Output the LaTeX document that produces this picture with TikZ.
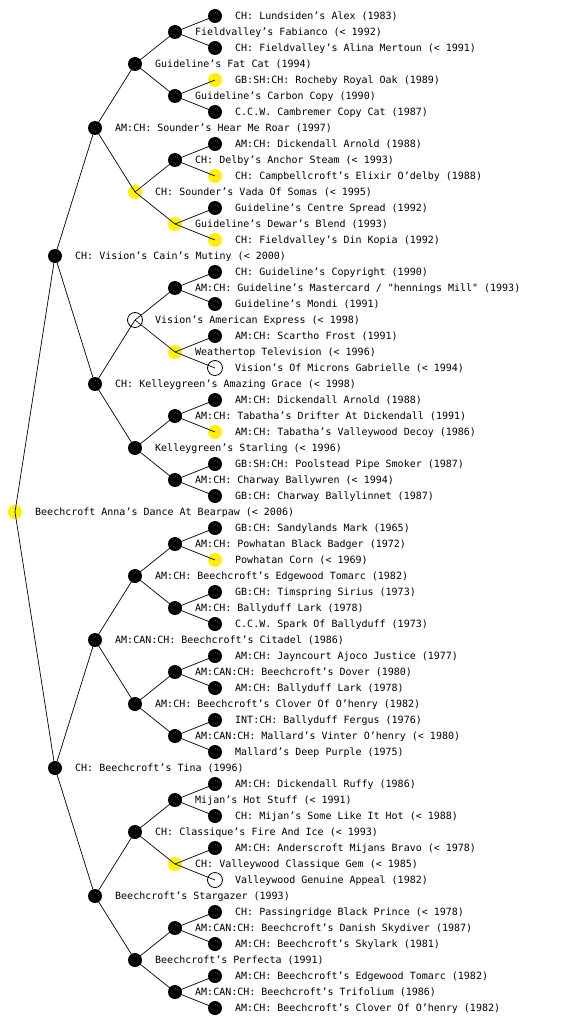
\documentclass[tikz,border=0pt]{standalone}
\usepackage{fontspec}
\newfontfamily\pedfont{DejaVu Sans Mono}
\tikzset{
  pnode/.style={circle, inner sep=0pt, minimum size=14pt},
  blk/.style={pnode, fill=black, path picture={\draw[white!75!black, line width=0.45pt, dotted] (path picture bounding box.center) circle (3.6pt);}},
  yel/.style={pnode, fill=yellow},
  wht/.style={pnode, fill=white, draw=black, line width=0.8pt, minimum size=15pt},
  lbl/.style={anchor=west, inner sep=0pt, text height=7.3pt, text depth=0pt, font=\pedfont\fontsize{10}{12}\selectfont},
  edge/.style={draw=black, line width=0.7pt}
}
\newcommand\pedent[5]{%
  \node[#1] (#2) at (#3,#4) {};
  \node[lbl] (#2t) at ([xshift=20pt]#2.center) {#5};}
\begin{document}
\begin{tikzpicture}[x=1pt,y=-1pt]
\fill[white] (0,0) rectangle (560,1024);
\useasboundingbox (0,0) rectangle (560,1024);
% root and level 1
\pedent{yel}{r}{15}{512}{Beechcroft Anna’s Dance At Bearpaw (< 2006)}
\pedent{blk}{a0}{55}{256}{CH: Vision’s Cain’s Mutiny (< 2000)}
\pedent{blk}{a1}{55}{768}{CH: Beechcroft’s Tina (1996)}
% level 2
\pedent{blk}{b0}{95}{128}{AM:CH: Sounder’s Hear Me Roar (1997)}
\pedent{blk}{b1}{95}{384}{CH: Kelleygreen’s Amazing Grace (< 1998)}
\pedent{blk}{b2}{95}{640}{AM:CAN:CH: Beechcroft’s Citadel (1986)}
\pedent{blk}{b3}{95}{896}{Beechcroft’s Stargazer (1993)}
% level 3
\pedent{blk}{c0}{135}{64}{Guideline’s Fat Cat (1994)}
\pedent{yel}{c1}{135}{192}{CH: Sounder’s Vada Of Somas (< 1995)}
\pedent{wht}{c2}{135}{320}{Vision’s American Express (< 1998)}
\pedent{blk}{c3}{135}{448}{Kelleygreen’s Starling (< 1996)}
\pedent{blk}{c4}{135}{576}{AM:CH: Beechcroft’s Edgewood Tomarc (1982)}
\pedent{blk}{c5}{135}{704}{AM:CH: Beechcroft’s Clover Of O’henry (1982)}
\pedent{blk}{c6}{135}{832}{CH: Classique’s Fire And Ice (< 1993)}
\pedent{blk}{c7}{135}{960}{Beechcroft’s Perfecta (1991)}
% level 4
\pedent{blk}{d0}{175}{32}{Fieldvalley’s Fabianco (< 1992)}
\pedent{blk}{d1}{175}{96}{Guideline’s Carbon Copy (1990)}
\pedent{blk}{d2}{175}{160}{CH: Delby’s Anchor Steam (< 1993)}
\pedent{yel}{d3}{175}{224}{Guideline’s Dewar’s Blend (1993)}
\pedent{blk}{d4}{175}{288}{AM:CH: Guideline’s Mastercard / "hennings Mill" (1993)}
\pedent{yel}{d5}{175}{352}{Weathertop Television (< 1996)}
\pedent{blk}{d6}{175}{416}{AM:CH: Tabatha’s Drifter At Dickendall (1991)}
\pedent{blk}{d7}{175}{480}{AM:CH: Charway Ballywren (< 1994)}
\pedent{blk}{d8}{175}{544}{AM:CH: Powhatan Black Badger (1972)}
\pedent{blk}{d9}{175}{608}{AM:CH: Ballyduff Lark (1978)}
\pedent{blk}{d10}{175}{672}{AM:CAN:CH: Beechcroft’s Dover (1980)}
\pedent{blk}{d11}{175}{736}{AM:CAN:CH: Mallard’s Vinter O’henry (< 1980)}
\pedent{blk}{d12}{175}{800}{Mijan’s Hot Stuff (< 1991)}
\pedent{yel}{d13}{175}{864}{CH: Valleywood Classique Gem (< 1985)}
\pedent{blk}{d14}{175}{928}{AM:CAN:CH: Beechcroft’s Danish Skydiver (1987)}
\pedent{blk}{d15}{175}{992}{AM:CAN:CH: Beechcroft’s Trifolium (1986)}
% level 5
\pedent{blk}{e0}{215}{16}{CH: Lundsiden’s Alex (1983)}
\pedent{blk}{e1}{215}{48}{CH: Fieldvalley’s Alina Mertoun (< 1991)}
\pedent{yel}{e2}{215}{80}{GB:SH:CH: Rocheby Royal Oak (1989)}
\pedent{blk}{e3}{215}{112}{C.C.W. Cambremer Copy Cat (1987)}
\pedent{blk}{e4}{215}{144}{AM:CH: Dickendall Arnold (1988)}
\pedent{yel}{e5}{215}{176}{CH: Campbellcroft’s Elixir O’delby (1988)}
\pedent{blk}{e6}{215}{208}{Guideline’s Centre Spread (1992)}
\pedent{yel}{e7}{215}{240}{CH: Fieldvalley’s Din Kopia (1992)}
\pedent{blk}{e8}{215}{272}{CH: Guideline’s Copyright (1990)}
\pedent{blk}{e9}{215}{304}{Guideline’s Mondi (1991)}
\pedent{blk}{e10}{215}{336}{AM:CH: Scartho Frost (1991)}
\pedent{wht}{e11}{215}{368}{Vision’s Of Microns Gabrielle (< 1994)}
\pedent{blk}{e12}{215}{400}{AM:CH: Dickendall Arnold (1988)}
\pedent{yel}{e13}{215}{432}{AM:CH: Tabatha’s Valleywood Decoy (1986)}
\pedent{blk}{e14}{215}{464}{GB:SH:CH: Poolstead Pipe Smoker (1987)}
\pedent{blk}{e15}{215}{496}{GB:CH: Charway Ballylinnet (1987)}
\pedent{blk}{e16}{215}{528}{GB:CH: Sandylands Mark (1965)}
\pedent{yel}{e17}{215}{560}{Powhatan Corn (< 1969)}
\pedent{blk}{e18}{215}{592}{GB:CH: Timspring Sirius (1973)}
\pedent{blk}{e19}{215}{624}{C.C.W. Spark Of Ballyduff (1973)}
\pedent{blk}{e20}{215}{656}{AM:CH: Jayncourt Ajoco Justice (1977)}
\pedent{blk}{e21}{215}{688}{AM:CH: Ballyduff Lark (1978)}
\pedent{blk}{e22}{215}{720}{INT:CH: Ballyduff Fergus (1976)}
\pedent{blk}{e23}{215}{752}{Mallard’s Deep Purple (1975)}
\pedent{blk}{e24}{215}{784}{AM:CH: Dickendall Ruffy (1986)}
\pedent{blk}{e25}{215}{816}{CH: Mijan’s Some Like It Hot (< 1988)}
\pedent{blk}{e26}{215}{848}{AM:CH: Anderscroft Mijans Bravo (< 1978)}
\pedent{wht}{e27}{215}{880}{Valleywood Genuine Appeal (1982)}
\pedent{blk}{e28}{215}{912}{CH: Passingridge Black Prince (< 1978)}
\pedent{blk}{e29}{215}{944}{AM:CH: Beechcroft’s Skylark (1981)}
\pedent{blk}{e30}{215}{976}{AM:CH: Beechcroft’s Edgewood Tomarc (1982)}
\pedent{blk}{e31}{215}{1008}{AM:CH: Beechcroft’s Clover Of O’henry (1982)}
% connectors
\draw[edge] (r.center) -- (a0.center);
\draw[edge] (r.center) -- (a1.center);
\foreach \i in {0,1} {
  \pgfmathtruncatemacro\ja{2*\i}\pgfmathtruncatemacro\jb{2*\i+1}
  \draw[edge] (a\i.center) -- (b\ja.center);
  \draw[edge] (a\i.center) -- (b\jb.center);
}
\foreach \i in {0,...,3} {
  \pgfmathtruncatemacro\ja{2*\i}\pgfmathtruncatemacro\jb{2*\i+1}
  \draw[edge] (b\i.center) -- (c\ja.center);
  \draw[edge] (b\i.center) -- (c\jb.center);
}
\foreach \i in {0,...,7} {
  \pgfmathtruncatemacro\ja{2*\i}\pgfmathtruncatemacro\jb{2*\i+1}
  \draw[edge] (c\i.center) -- (d\ja.center);
  \draw[edge] (c\i.center) -- (d\jb.center);
}
\foreach \i in {0,...,15} {
  \pgfmathtruncatemacro\ja{2*\i}\pgfmathtruncatemacro\jb{2*\i+1}
  \draw[edge] (d\i.center) -- (e\ja.center);
  \draw[edge] (d\i.center) -- (e\jb.center);
}
\end{tikzpicture}
\end{document}
